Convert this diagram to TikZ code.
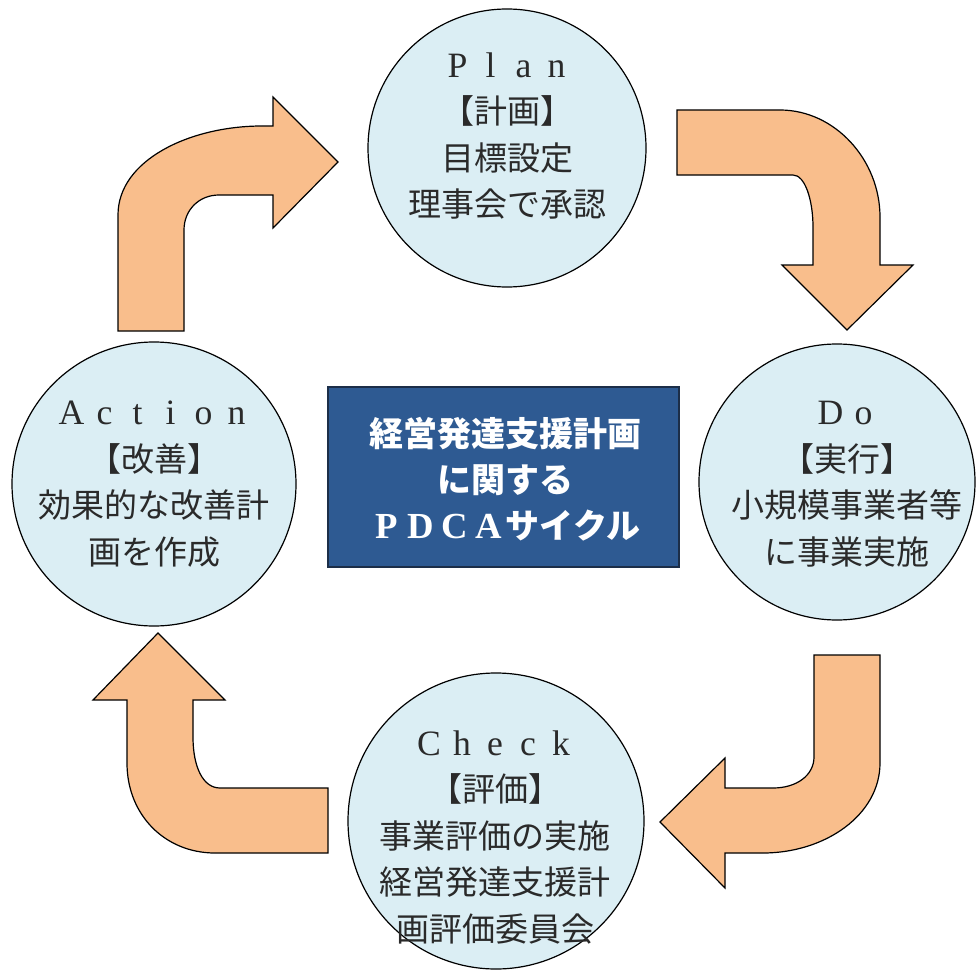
\documentclass[tikz,border=0pt]{standalone}
\usepackage{fontspec}
\newfontfamily\jp{Noto Sans CJK JP}
\newfontfamily\ser[Scale=1.08]{Liberation Serif}
\definecolor{cycfill}{HTML}{DBEEF4}
\definecolor{arrfill}{HTML}{F9BE8C}
\definecolor{boxblue}{HTML}{2E5A92}
\definecolor{boxline}{HTML}{1C2E48}
\definecolor{txtcol}{HTML}{2A2A2A}
\newcommand\fwc[1]{\makebox[1em][c]{\ser #1}}
\begin{document}
\begin{tikzpicture}[x=1pt,y=-1pt,
  cyc/.style={circle,draw=black,line width=1.2pt,fill=cycfill,inner sep=0pt},
  cyctext/.style={align=center,text=txtcol,font=\jp\fontsize{33}{46.5}\selectfont,inner sep=0pt},
  blockarrow/.style={draw=black,line width=1.2pt,fill=arrfill,line join=miter},
  titlebox/.style={draw=boxline,line width=1.2pt,fill=boxblue,inner sep=0pt},
  titletext/.style={align=center,text=white,font=\jp\bfseries\fontsize{34}{46}\selectfont,inner sep=0pt}]
\useasboundingbox (0,0) rectangle (977,971);
\fill[white] (0,0) rectangle (977,971);

% circles
\node[cyc,minimum size=278pt] (plan) at (507,148) {};
\node[cyc,minimum size=276pt] (do) at (837,482) {};
\node[cyc,minimum size=284pt] (act) at (154,484) {};
\node[cyc,minimum size=296pt] (chk) at (496,821) {};

% centre box
\node[titlebox,minimum width=351pt,minimum height=180pt] (title) at (503.5,477) {};
\node[titletext] (titlet) at (505,479) {経営発達支援計画\\に関する\\\fwc{\bfseries P}\fwc{\bfseries D}\fwc{\bfseries C}\fwc{\bfseries A}サイクル};

% circle texts
\node[cyctext] (plant) at (507,136) {\fwc{P}\fwc{l}\fwc{a}\fwc{n}\\【計画】\\目標設定\\理事会で承認};
\node[cyctext] (dot) at (847,484) {\fwc{D}\fwc{o}\\【実行】\\小規模事業者等\\に事業実施};
\node[cyctext] (actt) at (154,484) {\fwc{A}\fwc{c}\fwc{t}\fwc{i}\fwc{o}\fwc{n}\\【改善】\\効果的な改善計\\画を作成};
\node[cyctext] (chkt) at (495,837) {\fwc{C}\fwc{h}\fwc{e}\fwc{c}\fwc{k}\\【評価】\\事業評価の実施\\経営発達支援計\\画評価委員会};

% arrow Action -> Plan
\draw[blockarrow] (118,331) -- (118,215) .. controls (118,160) and (190,126) .. (262,126)
  -- (273,126) -- (273,97) -- (338,162) -- (273,228) -- (273,195) -- (219,195)
  .. controls (199,195) and (184,210) .. (184,230) -- (184,331) -- cycle;

% arrow Plan -> Do
\draw[blockarrow] (677,110) -- (780,110) .. controls (835,110) and (880,160) .. (880,217)
  -- (880,265) -- (913,265) -- (847,330) -- (782,265) -- (813,265) -- (813,227)
  .. controls (813,200) and (805,175) .. (793,175) -- (677,175) -- cycle;

% arrow Do -> Check
\draw[blockarrow] (880,655) -- (880,763) .. controls (880,815) and (825,853) .. (763,853)
  -- (725,853) -- (725,888) -- (660,822) -- (725,758) -- (725,788) -- (773,788)
  .. controls (797,788) and (814,775) .. (814,757) -- (814,655) -- cycle;

% arrow Check -> Action
\draw[blockarrow] (328,853) -- (215,853) .. controls (165,853) and (127,815) .. (127,763)
  -- (127,700) -- (93,700) -- (158,633) -- (225,700) -- (193,700) -- (193,737)
  .. controls (193,767) and (203,788) .. (220,788) -- (328,788) -- cycle;
\end{tikzpicture}
\end{document}
